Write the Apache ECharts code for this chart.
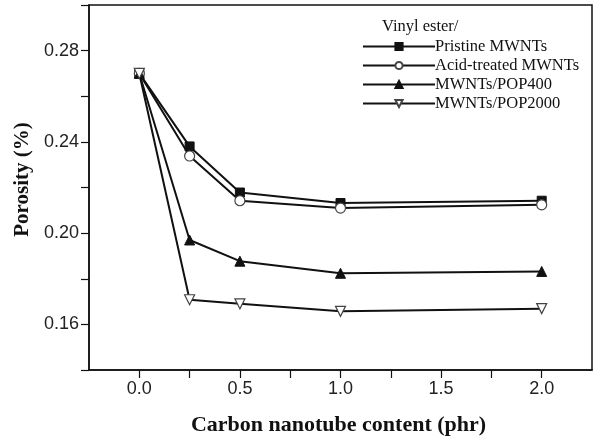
<!DOCTYPE html>
<html>
<head>
<meta charset="utf-8">
<script src="https://cdn.jsdelivr.net/npm/echarts@6/dist/echarts.min.js"></script>
<style>html,body{margin:0;padding:0;background:#fff}#c{width:594px;height:441px}</style>
</head>
<body>
<div id="c"></div>
<script>
const xValues = [0, 0.25, 0.5, 1.0, 2.0];
const pristine = [0.270, 0.238, 0.2178, 0.2132, 0.2142];
const acidTreated = [0.270, 0.2338, 0.2142, 0.2110, 0.2124];
const pop400 = [0.270, 0.197, 0.1877, 0.1824, 0.1832];
const pop2000 = [0.270, 0.1708, 0.169, 0.1657, 0.1669];
const seriesNames = ['Pristine MWNTs', 'Acid-treated MWNTs', 'MWNTs/POP400', 'MWNTs/POP2000'];
const legendTitle = 'Vinyl ester/';
const xLabels = ['0.0', '0.5', '1.0', '1.5', '2.0'];
const yLabels = ['0.16', '0.20', '0.24', '0.28'];

const pair = arr => xValues.map((x, i) => [x, arr[i]]);
const chart = echarts.init(document.getElementById('c'));
const serif = '"Liberation Serif", "DejaVu Serif", serif';
const sans = '"Liberation Sans", Arial, sans-serif';

function mk(name, data, symbol, size, filled, rotate) {
  return {
    name: name, type: 'line', data: pair(data),
    symbol: symbol, symbolSize: size, symbolRotate: rotate || 0,
    showAllSymbol: true,
    lineStyle: {color: '#111', width: 2},
    itemStyle: filled ? {color: '#111', borderColor: '#111', borderWidth: 1}
                      : {color: '#fff', borderColor: '#444', borderWidth: 1.2},
    emphasis: {disabled: true},
    z: 3
  };
}

chart.setOption({
  animation: false,
  backgroundColor: '#fff',
  grid: {left: 89, top: 5, right: 2, bottom: 64, show: true, borderColor: '#111', borderWidth: 1.5, backgroundColor: 'transparent'},
  xAxis: {
    type: 'value', min: -0.25, max: 2.25, interval: 0.25,
    axisLine: {show: true, onZero: false, lineStyle: {color: '#111', width: 1.5}},
    axisTick: {show: true, inside: false, length: 8, lineStyle: {color: '#111', width: 1.2}},
    splitLine: {show: false},
    axisLabel: {
      color: '#222', fontFamily: sans, fontSize: 18, margin: 10,
      formatter: v => { const i = Math.round(v / 0.5); return (Math.abs(v - i * 0.5) < 1e-6 && xLabels[i] !== undefined) ? xLabels[i] : ''; },
      showMinLabel: false, showMaxLabel: false
    },
    name: 'Carbon nanotube content (phr)', nameLocation: 'middle', nameGap: 44,
    nameTextStyle: {fontFamily: serif, fontWeight: 'bold', fontSize: 22, color: '#111', padding: [0, 4, 0, 0]}
  },
  yAxis: {
    type: 'value', min: 0.14, max: 0.30, interval: 0.02,
    axisLine: {show: true, onZero: false, lineStyle: {color: '#111', width: 1.5}},
    axisTick: {show: true, inside: false, length: 8, lineStyle: {color: '#111', width: 1.2}},
    splitLine: {show: false},
    axisLabel: {
      color: '#222', fontFamily: sans, fontSize: 18, margin: 10,
      formatter: v => { const k = Math.round((v - 0.16) / 0.04); return (Math.abs(v - (0.16 + k * 0.04)) < 1e-6 && yLabels[k] !== undefined) ? yLabels[k] : ''; }
    },
    name: 'Porosity (%)', nameLocation: 'middle', nameGap: 50, nameRotate: 90,
    nameTextStyle: {fontFamily: serif, fontWeight: 'bold', fontSize: 21, color: '#111', padding: [0, 0, 0, 16]}
  },
  legend: {
    orient: 'vertical', left: 362, top: 38, itemGap: 2, padding: 0,
    itemWidth: 72, itemHeight: 9,
    data: seriesNames,
    textStyle: {fontFamily: serif, fontSize: 16.5, color: '#111', padding: [0, 0, 0, -5]},
    selectedMode: false
  },
  graphic: [{
    type: 'text', left: 382, top: 18,
    style: {text: legendTitle, font: '16.5px ' + serif, fill: '#111'}
  }],
  series: [
    mk(seriesNames[0], pristine, 'rect', 9, true),
    mk(seriesNames[1], acidTreated, 'circle', 10, false),
    mk(seriesNames[2], pop400, 'triangle', 10, true),
    mk(seriesNames[3], pop2000, 'triangle', 10, false, 180)
  ]
});
</script>
</body>
</html>
